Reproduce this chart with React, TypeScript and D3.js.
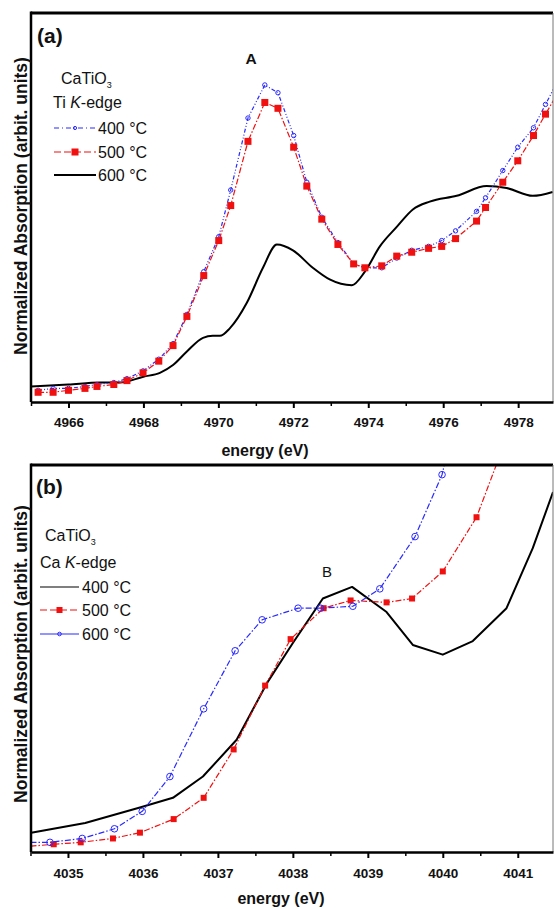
import React, { useEffect, useRef } from 'react';
import * as d3 from 'd3';

// (a) Ti K-edge
const energyA = [4965.19, 4965.59, 4966.0, 4966.44, 4966.76, 4967.21, 4967.56, 4967.99, 4968.41, 4968.79, 4969.16, 4969.61, 4970.01, 4970.33, 4970.79, 4971.24, 4971.59, 4972.01, 4972.36, 4972.76, 4973.19, 4973.61, 4973.91, 4974.36, 4974.76, 4975.16, 4975.61, 4975.96, 4976.33, 4976.89, 4977.13, 4977.59, 4977.99, 4978.41, 4978.73, 4979.0];
const tiK400 = [0.06, 0.07, 0.07, 0.08, 0.09, 0.10, 0.12, 0.16, 0.22, 0.30, 0.45, 0.67, 0.85, 1.09, 1.46, 1.63, 1.59, 1.37, 1.13, 0.95, 0.82, 0.71, 0.69, 0.69, 0.74, 0.78, 0.80, 0.83, 0.88, 0.98, 1.05, 1.19, 1.31, 1.41, 1.53, 1.63];
const tiK500 = [0.05, 0.05, 0.06, 0.07, 0.08, 0.09, 0.11, 0.15, 0.21, 0.29, 0.44, 0.65, 0.83, 1.01, 1.34, 1.54, 1.51, 1.31, 1.11, 0.94, 0.81, 0.71, 0.69, 0.70, 0.75, 0.77, 0.79, 0.80, 0.84, 0.93, 1.00, 1.13, 1.24, 1.37, 1.48, 1.57];
const energyA600 = [4965.0, 4966.0, 4966.84, 4967.37, 4968.0, 4968.44, 4968.79, 4969.16, 4969.59, 4969.85, 4970.04, 4970.31, 4970.76, 4971.19, 4971.56, 4971.99, 4972.52, 4972.97, 4973.56, 4973.91, 4974.31, 4974.76, 4975.19, 4975.64, 4976.36, 4977.16, 4977.69, 4978.39, 4978.92];
const tiK600 = [0.08, 0.09, 0.10, 0.10, 0.13, 0.15, 0.19, 0.26, 0.33, 0.34, 0.34, 0.38, 0.51, 0.69, 0.81, 0.78, 0.69, 0.63, 0.60, 0.67, 0.80, 0.90, 0.99, 1.03, 1.06, 1.11, 1.10, 1.06, 1.08];
const ticksA = [4966, 4968, 4970, 4972, 4974, 4976, 4978];
const minorA = [4965, 4967, 4969, 4971, 4973, 4975, 4977];

// (b) Ca K-edge
const energyB400 = [4034.51, 4035.23, 4035.96, 4036.4, 4036.8, 4037.25, 4037.65, 4038.0, 4038.4, 4038.79, 4039.25, 4039.6, 4040.0, 4040.4, 4040.85, 4041.2, 4041.47];
const caK400 = [0.10, 0.15, 0.23, 0.28, 0.39, 0.58, 0.87, 1.08, 1.31, 1.37, 1.24, 1.07, 1.02, 1.09, 1.26, 1.57, 1.86];
const energyB500 = [4034.5, 4034.81, 4035.17, 4035.6, 4035.96, 4036.41, 4036.81, 4037.21, 4037.63, 4037.97, 4038.41, 4038.77, 4039.25, 4039.59, 4040.0, 4040.45, 4040.85];
const caK500 = [0.03, 0.04, 0.05, 0.07, 0.10, 0.17, 0.28, 0.53, 0.86, 1.10, 1.26, 1.30, 1.29, 1.31, 1.45, 1.73, 2.14];
const energyB600 = [4034.5, 4034.76, 4035.19, 4035.62, 4035.99, 4036.36, 4036.81, 4037.23, 4037.59, 4038.07, 4038.37, 4038.8, 4039.16, 4039.63, 4039.99, 4040.2];
const caK600 = [0.05, 0.05, 0.07, 0.12, 0.21, 0.39, 0.74, 1.04, 1.20, 1.26, 1.26, 1.27, 1.36, 1.63, 1.95, 2.3];
const ticksB = [4035, 4036, 4037, 4038, 4039, 4040, 4041];
const minorB = [4034.5, 4035.5, 4036.5, 4037.5, 4038.5, 4039.5, 4040.5];

const FONT = '"Liberation Sans", Arial, sans-serif';
const BLUE = '#2a2aff';
const RED = '#f01010';

type Series = {
  x: number[];
  y: number[];
  color: string;
  width: number;
  dash?: string;
  marker?: 'square' | 'circle';
  size?: number;
  smooth?: boolean;
};

const Panel = ({ id, top, bottom, domain, ticks, minor, series, pad }: any) => {
  const axisRef = useRef<SVGGElement>(null);
  const minorRef = useRef<SVGGElement>(null);
  const x = d3.scaleLinear().domain(domain).range([31, 553]);
  const y = d3.scaleLinear().domain([0, 2]).range([bottom, top]);

  useEffect(() => {
    const g = d3.select(axisRef.current);
    g.call(d3.axisBottom(x).tickValues(ticks).tickFormat(d3.format('d')).tickSize(6).tickSizeOuter(0).tickPadding(pad));
    g.select('.domain').attr('stroke-width', 2.5);
    g.selectAll('.tick line').attr('stroke-width', 2);
    g.selectAll('.tick text')
      .attr('font-family', FONT)
      .attr('font-weight', 'bold')
      .attr('font-size', 13.5)
      .attr('fill', '#111');
    const m = d3.select(minorRef.current);
    m.call(d3.axisBottom(x).tickValues(minor).tickFormat(() => '').tickSize(4).tickSizeOuter(0));
    m.select('.domain').remove();
    m.selectAll('.tick line').attr('stroke-width', 1.5);
  }, []);

  return (
    <g>
      <defs>
        <clipPath id={'clip-' + id}>
          <rect x={31} y={top} width={522} height={bottom - top} />
        </clipPath>
      </defs>
      <g clipPath={`url(#clip-${id})`}>
        {series.map((s: Series, i: number) => {
          const pts = s.x.map((v, k) => [v, s.y[k]] as [number, number]);
          const gen = d3
            .line<[number, number]>()
            .x((d) => x(d[0]))
            .y((d) => y(d[1]))
            .curve(s.smooth ? d3.curveMonotoneX : d3.curveLinear);
          const inside = pts.filter((d) => d[0] >= domain[0] && d[0] <= domain[1] && d[1] <= 2);
          const r = s.size || 3;
          return (
            <g key={i}>
              <path d={gen(pts) || ''} fill="none" stroke={s.color} strokeWidth={s.width} strokeDasharray={s.dash} strokeLinejoin="round" />
              {s.marker === 'square' &&
                inside.map((d, k) => (
                  <rect key={k} x={x(d[0]) - r} y={y(d[1]) - r} width={2 * r} height={2 * r} fill={s.color} />
                ))}
              {s.marker === 'circle' &&
                inside.map((d, k) => (
                  <circle key={k} cx={x(d[0])} cy={y(d[1])} r={r} fill="none" stroke={s.color} strokeWidth={1} />
                ))}
            </g>
          );
        })}
      </g>
      <line x1={31} x2={553} y1={top} y2={top} stroke="#000" strokeWidth={3} />
      <line x1={31} x2={31} y1={top - 1.5} y2={bottom} stroke="#000" strokeWidth={2.5} />
      <line x1={553} x2={553} y1={top} y2={bottom} stroke="#777" strokeWidth={1} />
      <g ref={minorRef} transform={`translate(0,${bottom})`} />
      <g ref={axisRef} transform={`translate(0,${bottom})`} />
    </g>
  );
};

const LegendLine = ({ x1, x2, y, color, width, dash, marker, size }: any) => (
  <g>
    <line x1={x1} x2={x2} y1={y} y2={y} stroke={color} strokeWidth={width} strokeDasharray={dash} />
    {marker === 'square' && <rect x={(x1 + x2) / 2 - size} y={y - size} width={2 * size} height={2 * size} fill={color} />}
    {marker === 'circle' && <circle cx={(x1 + x2) / 2} cy={y} r={size} fill="none" stroke={color} strokeWidth={1} />}
  </g>
);

const App = () => {
  const seriesA: Series[] = [
    { x: energyA600, y: tiK600, color: '#000', width: 2, smooth: true },
    { x: energyA, y: tiK400, color: BLUE, width: 1.2, dash: '4,2,1,2,1,2', marker: 'circle', size: 2.2 },
    { x: energyA, y: tiK500, color: RED, width: 1.2, dash: '6,2,1.5,2', marker: 'square', size: 3.5 },
  ];
  const seriesB: Series[] = [
    { x: energyB400, y: caK400, color: '#000', width: 2 },
    { x: energyB500, y: caK500, color: RED, width: 1.2, dash: '6,2,1.5,2', marker: 'square', size: 3 },
    { x: energyB600, y: caK600, color: BLUE, width: 1.2, dash: '6,2,1.5,2', marker: 'circle', size: 3.3 },
  ];
  const txt = { fontFamily: FONT, fill: '#111' };
  return (
    <svg width={554} height={909} style={{ position: 'absolute', left: 0, top: 0, background: '#fff' }}>
      <Panel id="a" top={13} bottom={402} domain={[4965, 4978.93]} ticks={ticksA} minor={minorA} series={seriesA} pad={9} />
      <Panel id="b" top={465} bottom={852} domain={[4034.507, 4041.47]} ticks={ticksB} minor={minorB} series={seriesB} pad={10} />

      {/* axis titles */}
      <text {...txt} x={265} y={456} textAnchor="middle" fontSize={16} fontWeight="bold">energy (eV)</text>
      <text {...txt} x={281} y={904} textAnchor="middle" fontSize={16} fontWeight="bold">energy (eV)</text>
      <text {...txt} transform="translate(27,206) rotate(-90)" textAnchor="middle" fontSize={17.5} fontWeight="bold">
        Normalized Absorption (arbit. units)
      </text>
      <text {...txt} transform="translate(27,654) rotate(-90)" textAnchor="middle" fontSize={17.5} fontWeight="bold">
        Normalized Absorption (arbit. units)
      </text>

      {/* panel (a) labels */}
      <text {...txt} x={37} y={43} fontSize={21} fontWeight="bold">(a)</text>
      <text {...txt} x={251} y={64} textAnchor="middle" fontSize={15.5} fontWeight="bold">A</text>
      <text {...txt} x={61} y={84} fontSize={16}>
        CaTiO<tspan fontSize={9} dy={4}>3</tspan>
      </text>
      <text {...txt} x={53} y={108} fontSize={16}>
        Ti <tspan fontStyle="italic">K</tspan>-edge
      </text>
      <LegendLine x1={54} x2={96} y={128} color={BLUE} width={1.2} dash="5,3,1,3" marker="circle" size={1.6} />
      <LegendLine x1={54} x2={96} y={152} color={RED} width={1.2} dash="7,3" marker="square" size={3.5} />
      <LegendLine x1={54} x2={96} y={175} color="#000" width={2} />
      <text {...txt} x={98} y={134} fontSize={16}>400 °C</text>
      <text {...txt} x={98} y={158} fontSize={16}>500 °C</text>
      <text {...txt} x={98} y={181} fontSize={16}>600 °C</text>

      {/* panel (b) labels */}
      <text {...txt} x={36} y={494} fontSize={21} fontWeight="bold">(b)</text>
      <text {...txt} x={327} y={577} textAnchor="middle" fontSize={15}>B</text>
      <text {...txt} x={45} y={541} fontSize={16}>
        CaTiO<tspan fontSize={9} dy={4}>3</tspan>
      </text>
      <text {...txt} x={40} y={568} fontSize={16}>
        Ca <tspan fontStyle="italic">K</tspan>-edge
      </text>
      <LegendLine x1={40} x2={79} y={587} color="#000" width={1.2} />
      <LegendLine x1={40} x2={79} y={610} color={RED} width={1.2} dash="7,3" marker="square" size={3} />
      <LegendLine x1={40} x2={79} y={634} color={BLUE} width={1.2} marker="circle" size={1.8} />
      <text {...txt} x={82} y={593} fontSize={16}>400 °C</text>
      <text {...txt} x={82} y={616} fontSize={16}>500 °C</text>
      <text {...txt} x={82} y={640} fontSize={16}>600 °C</text>
    </svg>
  );
};

export default App;
